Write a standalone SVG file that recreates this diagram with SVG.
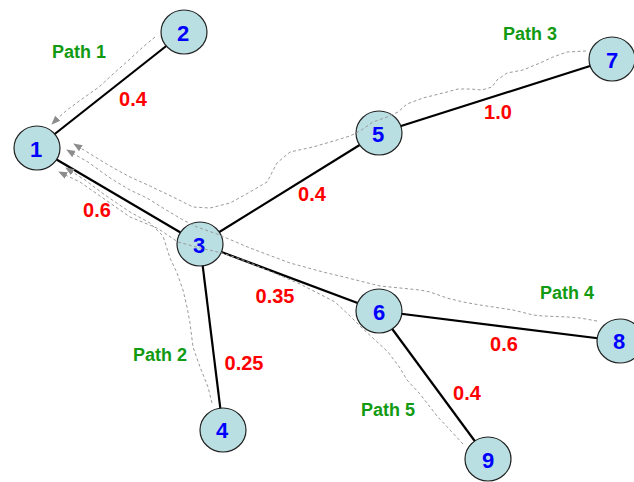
<svg xmlns="http://www.w3.org/2000/svg" width="634" height="482" viewBox="0 0 634 482">
  <style>
    .edge { stroke: #000; stroke-width: 2.2; fill: none; }
    .node ellipse { fill: #b9dfe2; stroke: #222; stroke-width: 1.2; }
    .node text { font-family: "Liberation Sans", Arial, sans-serif; font-weight: bold; font-size: 22px; fill: #0000ff; text-anchor: middle; }
    .w { font-family: "Liberation Sans", Arial, sans-serif; font-weight: bold; font-size: 20px; fill: #ff0000; text-anchor: middle; }
    .p { font-family: "Liberation Sans", Arial, sans-serif; font-weight: bold; font-size: 18px; fill: #129a12; text-anchor: middle; }
    .trace { fill: none; stroke: #9a9a9a; stroke-width: 1; stroke-dasharray: 3 2.5; stroke-linejoin: round; marker-end: url(#tip); }
  </style>
  <defs>
    <marker id="tip" viewBox="0 0 10 10" refX="9" refY="5" markerWidth="9" markerHeight="9" markerUnits="userSpaceOnUse" orient="auto">
      <path d="M0,1 L10,5 L0,9 z" fill="#8c8c8c"/>
    </marker>
  </defs>

  <!-- tree edges -->
  <g id="edges">
    <line class="edge" x1="37" y1="148" x2="184" y2="32"/>
    <line class="edge" x1="37" y1="148" x2="200" y2="244"/>
    <line class="edge" x1="200" y1="244" x2="379" y2="133"/>
    <line class="edge" x1="379" y1="133" x2="612" y2="59"/>
    <line class="edge" x1="200" y1="244" x2="223" y2="430"/>
    <line class="edge" x1="200" y1="244" x2="379" y2="311"/>
    <line class="edge" x1="379" y1="311" x2="620" y2="341"/>
    <line class="edge" x1="379" y1="311" x2="488" y2="459"/>
  </g>

  <!-- nodes -->
  <g id="node1" class="node"><ellipse cx="37" cy="148" rx="23" ry="22"/><text x="36" y="157">1</text></g>
  <g id="node2" class="node"><ellipse cx="184" cy="32" rx="23" ry="22"/><text x="183" y="41">2</text></g>
  <g id="node3" class="node"><ellipse cx="200" cy="244" rx="23" ry="22"/><text x="199" y="253">3</text></g>
  <g id="node4" class="node"><ellipse cx="223" cy="430" rx="23" ry="22"/><text x="222" y="438">4</text></g>
  <g id="node5" class="node"><ellipse cx="379" cy="133" rx="23" ry="22"/><text x="378" y="142">5</text></g>
  <g id="node6" class="node"><ellipse cx="379" cy="311" rx="23" ry="22"/><text x="379" y="320">6</text></g>
  <g id="node7" class="node"><ellipse cx="612" cy="59" rx="23" ry="22"/><text x="612" y="68">7</text></g>
  <g id="node8" class="node"><ellipse cx="620" cy="341" rx="23" ry="22"/><text x="619" y="349">8</text></g>
  <g id="node9" class="node"><ellipse cx="488" cy="459" rx="23" ry="22"/><text x="488" y="468">9</text></g>

  <!-- dashed traces leading back to node 1 -->
  <g id="traces">
    <polyline class="trace" points="155,37 143,47 130,59 112,75 99,87 82,99 67,110 57,119 52,124"/>
    <polyline class="trace" points="586,51 567,52 553,57 540,63 523,70 507,73 497,80 492,87 482,90 470,89 458,89 447,92 423,98 407,104 398,112 387,117 373,122 360,131 350,136 337,140 313,147 290,152 277,163 267,182 250,192 230,203 210,208 193,207 173,197 150,186 130,177 110,166 92,155 74,144"/>
    <polyline class="trace" points="597,321 580,318 567,317 543,316 533,315 513,310 480,305 463,302 447,298 430,292 420,290 400,288 380,286 360,281 340,276 323,272 290,263 250,248 217,234 197,227 183,220 163,208 147,198 130,190 110,178 88,162 67,150"/>
    <polyline class="trace" points="212,403 208,387 200,367 193,347 190,323 187,307 183,290 177,273 170,258 163,236 150,223 130,212 105,195 85,180 66,168"/>
    <polyline class="trace" points="463,444 450,430 437,416 420,394 407,380 400,368 388,352 375,340 362,328 350,316 335,302 300,284 267,270 243,260 222,253 200,248 178,242 157,228 130,217 100,196 80,182 59,172"/>
  </g>

  <!-- edge weights -->
  <g id="weights">
    <text class="w" x="133" y="106">0.4</text>
    <text class="w" x="97" y="217">0.6</text>
    <text class="w" x="312" y="201">0.4</text>
    <text class="w" x="498" y="119">1.0</text>
    <text class="w" x="275" y="303">0.35</text>
    <text class="w" x="244" y="370">0.25</text>
    <text class="w" x="504" y="351">0.6</text>
    <text class="w" x="467" y="400">0.4</text>
  </g>

  <!-- path labels -->
  <g id="path-labels">
    <text class="p" x="79" y="58">Path 1</text>
    <text class="p" x="160" y="361">Path 2</text>
    <text class="p" x="530" y="40">Path 3</text>
    <text class="p" x="567" y="299">Path 4</text>
    <text class="p" x="388" y="416">Path 5</text>
  </g>
</svg>
